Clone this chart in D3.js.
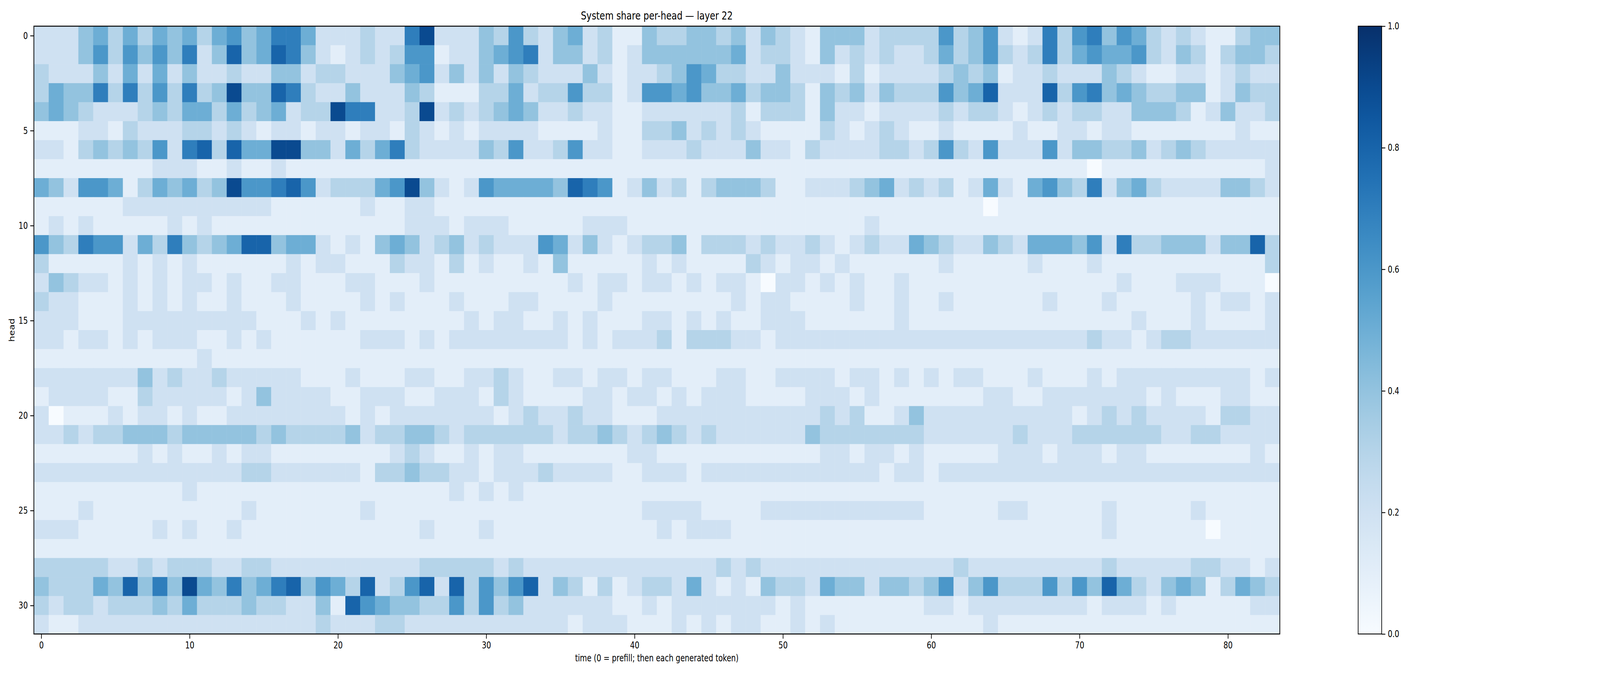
<!DOCTYPE html>
<html>
<head>
<meta charset="utf-8">
<script src="https://cdn.jsdelivr.net/npm/d3@7"></script>
<style>
  html, body { margin: 0; padding: 0; background: #fff; overflow: hidden; }
  #chart svg { display: block; width: 100vw; height: 100vh; }
  text { font-family: "DejaVu Sans", sans-serif; fill: #000; }
</style>
</head>
<body>
<div id="chart"></div>
<script>
// heads (rows) x time steps (columns); each digit is the share in tenths
const heads = d3.range(32);
const steps = d3.range(84);
const rowDigits = [
  "2224535354535645775222322792 2243632452311433443424321444 2333363462127367465323211344",
  "2224636464724845874212323661 2245672442312444444523321423 2322353463237356556324313443",
  "3222425252422322442332224562 4242432224212234653322422213 1222234341223222432112212322",
  "3544737363734944873224222431 1133523363312665644534431434 2433364582228367454334412433",
  "4543222343553534523397722392 3234542232211222222313331422 1222232332123233224443124223",
  "1112213222332321221221221321 2122221111211334232321111321 2321121111211221221111111211",
  "2213434362783855994425357322 2243622362211222322242213222 2332363262226244334234322222",
  "1111111122211211211111111111 1111111111111111111111111111 1111111111111110111111111112",
  "5426651354534966786233356942 1265555487612423134443112223 4523231252156437245322224432",
  "1111112222222222111111211221 1111111111111111111111111111 1111111101111111111111111111",
  "1212111112121111111111111222 1222111112221111111111111111 2111111111111111111111111111",
  "6437662537434588455212145423 4232226524212334133323223212 3225432243255546273344424483",
  "3111112121211111121221113221 3121121411111212111132122121 1111121111121112111111111113",
  "2432212121221211221112211121 1111111121221221212210221212 1121111111111111121112221110",
  "3221112121211211121111212111 2111221111211111111212211112 1121121111112111211111212212",
  "2221112222222221112121111111 1212211212111221212112221111 1121111111111111112111211112",
  "2212212122211212111111222121 2222222212122231333221222222 2222222222222223221233222222",
  "1111111111121111111111111111 1111111111111111111111111111 1111111111111111111111111111",
  "2222222423223222221112111221 1223211221221221112211222212 2121212211121112122222222212",
  "1222211322222124222211222112 2213211112212212122211112221 2111111122112222222121112211",
  "2011121221211222222221212222 2221232232211122222222222323 1124222222222212323222213322",
  "2232334443444443433334233443 2333333233432343232222224333 3333222222322233333322332222",
  "1111111212112122111111112321 1212211111112211111111111221 2212111112221222122111111121",
  "2222222222222233222222133433 2212223222211222122222222222 2122122222222222222222222222",
  "1111111111211111111111111111 2121211111111111111111111111 1111111111111111111111111111",
  "1112111111111121111111211111 1111111111111222211112222222 2222111112211111211111211111",
  "2221111121211211111111111121 1121111111111121222111111111 1111111111111111211111101111",
  "1111111111111111111111111111 1111111111111111111111111111 1111111111111111111111111111",
  "3333322323332233222222222233 3332322222222222223232222222 2222223222222222322222332212",
  "4333548474954745784653823682 8364682431312332521214332544 2443462463336364853245413543",
  "3233233343533343322418654433 6363422222211212222222121111 1111221222222221222121111122",
  "2112222222222222222322233222 2222222212221112121221121211 1111111121111111111111111111"
];
const xTicks = [0, 10, 20, 30, 40, 50, 60, 70, 80];
const yTicks = [0, 5, 10, 15, 20, 25, 30];
const cbarTicks = [0, 0.2, 0.4, 0.6, 0.8, 1.0];

const titleText = "System share per-head \u2014 layer 22";
const xLabel = "time (0 = prefill; then each generated token)";
const yLabel = "head";

// build cells from the digit rows
const cells = [];
rowDigits.forEach((row, h) => {
  const digits = row.replace(/\s/g, "");
  if (digits.length !== steps.length) console.error("row", h, "has", digits.length);
  steps.forEach(t => {
    cells.push({ head: h, t: t, value: (+digits[t] || 0) / 10 });
  });
});

const W = 5292, H = 1728;
const plot = { left: 112, right: 4233, top: 67, bottom: 1623 };
const cbar = { left: 4492, right: 4570 };

// drawn in a fixed 5292x1728 coordinate system, stretched to the window
const svg = d3.select("#chart").append("svg")
    .attr("viewBox", `0 0 ${W} ${H}`)
    .attr("preserveAspectRatio", "none");

const x = d3.scaleBand().domain(steps).range([plot.left, plot.right]);
const y = d3.scaleBand().domain(heads).range([plot.top, plot.bottom]);
const color = d3.scaleSequential(d3.interpolateBlues).domain([0, 1]);

// heatmap cells
svg.append("g")
  .selectAll("rect")
  .data(cells)
  .join("rect")
    .attr("x", d => x(d.t))
    .attr("y", d => y(d.head))
    .attr("width", x.bandwidth() + 0.6)
    .attr("height", y.bandwidth() + 0.6)
    .attr("fill", d => color(d.value));

// axes with ticks at cell centres
const xPos = d3.scaleLinear().domain([-0.5, 83.5]).range([plot.left, plot.right]);
const yPos = d3.scaleLinear().domain([-0.5, 31.5]).range([plot.top, plot.bottom]);

const xAxis = svg.append("g")
    .attr("transform", `translate(0,${plot.bottom})`)
    .call(d3.axisBottom(xPos).tickValues(xTicks).tickSize(12).tickPadding(8).tickFormat(d3.format("d")));
const yAxis = svg.append("g")
    .attr("transform", `translate(${plot.left},0)`)
    .call(d3.axisLeft(yPos).tickValues(yTicks).tickSize(12).tickPadding(8).tickFormat(d3.format("d")));

[xAxis, yAxis].forEach(a => {
  a.select(".domain").remove();
  a.selectAll("line").attr("stroke", "#000").attr("stroke-width", 2.2);
  a.selectAll("text").style("font-size", "24px").style("font-family", "DejaVu Sans");
});

// frame
svg.append("rect")
    .attr("x", plot.left).attr("y", plot.top)
    .attr("width", plot.right - plot.left).attr("height", plot.bottom - plot.top)
    .attr("fill", "none").attr("stroke", "#000").attr("stroke-width", 2.5);

// labels
svg.append("text")
    .attr("x", (plot.left + plot.right) / 2).attr("y", 50)
    .attr("text-anchor", "middle").style("font-size", "29px")
    .text(titleText);
svg.append("text")
    .attr("x", (plot.left + plot.right) / 2).attr("y", 1693)
    .attr("text-anchor", "middle").style("font-size", "24px")
    .text(xLabel);
svg.append("text")
    .attr("transform", `translate(48,${(plot.top + plot.bottom) / 2}) rotate(-90)`)
    .attr("text-anchor", "middle").style("font-size", "24px")
    .text(yLabel);

// colorbar
const defs = svg.append("defs");
const grad = defs.append("linearGradient")
    .attr("id", "cbar").attr("x1", 0).attr("y1", 1).attr("x2", 0).attr("y2", 0);
d3.range(0, 1.0001, 0.05).forEach(s => {
  grad.append("stop").attr("offset", s).attr("stop-color", color(s));
});
svg.append("rect")
    .attr("x", cbar.left).attr("y", plot.top)
    .attr("width", cbar.right - cbar.left).attr("height", plot.bottom - plot.top)
    .attr("fill", "url(#cbar)").attr("stroke", "#000").attr("stroke-width", 2.2);

const cScale = d3.scaleLinear().domain([0, 1]).range([plot.bottom, plot.top]);
const cAxis = svg.append("g")
    .attr("transform", `translate(${cbar.right},0)`)
    .call(d3.axisRight(cScale).tickValues(cbarTicks).tickSize(12).tickPadding(8).tickFormat(d3.format(".1f")));
cAxis.select(".domain").remove();
cAxis.selectAll("line").attr("stroke", "#000").attr("stroke-width", 2.2);
cAxis.selectAll("text").style("font-size", "24px").style("font-family", "DejaVu Sans");
</script>
</body>
</html>
